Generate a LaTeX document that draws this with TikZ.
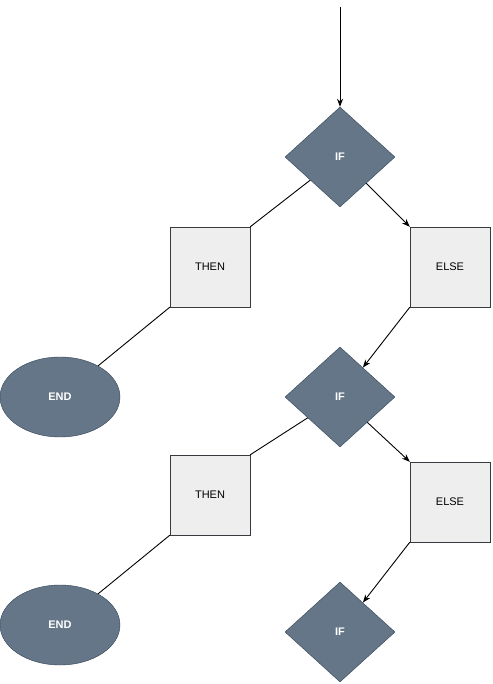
\documentclass[tikz,border=0pt]{standalone}
\usepackage{fontspec}
\setmainfont{Liberation Sans}
\usetikzlibrary{shapes.geometric, arrows.meta}

\definecolor{pizarra}{HTML}{647687}
\definecolor{pizarraborde}{HTML}{314354}
\definecolor{cajafondo}{HTML}{EEEEEE}
\definecolor{cajaborde}{HTML}{36393D}

\begin{document}
\begin{tikzpicture}[
        x=1pt, y=-1pt,
        % Estilo para decisiones
        decision/.style={
                diamond,
                minimum width=110pt,
                minimum height=100pt,
                inner sep=0pt,
                fill=pizarra,
                draw=pizarraborde,
                text=white,
                font=\fontsize{11}{13}\selectfont\bfseries
            },
        % Estilo para bloques
        bloque/.style={
                rectangle,
                minimum width=80pt,
                minimum height=80pt,
                fill=cajafondo,
                draw=cajaborde,
                text=black,
                font=\fontsize{11}{13}\selectfont
            },
        % Estilo para fin
        fin/.style={
                ellipse,
                minimum width=120pt,
                minimum height=80pt,
                fill=pizarra,
                draw=pizarraborde,
                text=white,
                font=\fontsize{11}{13}\selectfont\bfseries
            },
        % Conectores
        arrow/.style={
                -{Stealth[length=8pt,width=6pt]},
                line width=0.9pt
            },
        linea/.style={
                line width=0.9pt
            }
    ]

    \useasboundingbox (0,0) rectangle (492,684);

    % Entrada
    \coordinate (entrada) at (340,7);

    % Primer nivel
    \node[decision] (if1) at (340,157) {IF};
    \node[bloque] (then1) at (210,267) {THEN};
    \node[bloque] (else1) at (450,267) {ELSE};
    \node[fin] (end1) at (60,397) {END};

    % Segundo nivel
    \node[decision] (if2) at (340,397) {IF};
    \node[bloque] (then2) at (210,495) {THEN};
    \node[bloque] (else2) at (450,502) {ELSE};
    \node[fin] (end2) at (60,625) {END};

    % Tercer nivel
    \node[decision] (if3) at (340,632) {IF};

    % Flechas
    \draw[arrow] (entrada) -- (if1.north);
    \draw[linea] (if1) -- (then1.north east);
    \draw[arrow] (if1) -- (else1.north west);
    \draw[linea] (then1.south west) -- (end1);
    \draw[arrow] (else1.south west) -- (if2);
    \draw[linea] (if2) -- (then2.north east);
    \draw[arrow] (if2) -- (else2.north west);
    \draw[linea] (then2.south west) -- (end2);
    \draw[arrow] (else2.south west) -- (if3);

\end{tikzpicture}
\end{document}
